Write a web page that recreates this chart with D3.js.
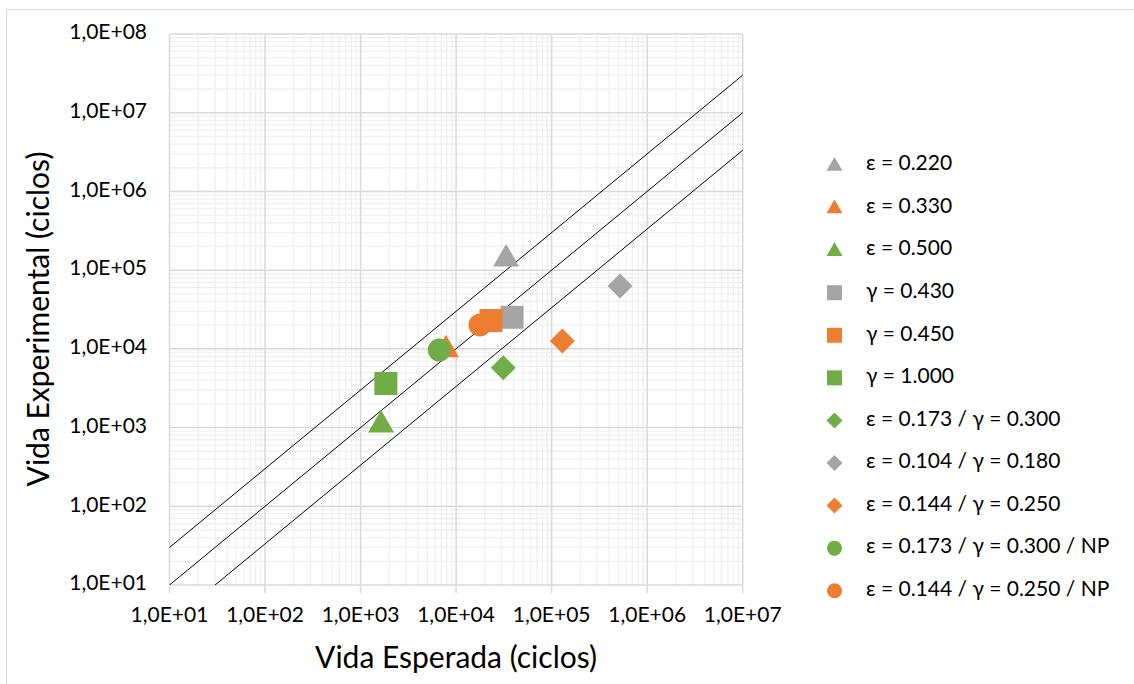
<!DOCTYPE html>
<html>
<head>
<meta charset="utf-8">
<script src="https://cdn.jsdelivr.net/npm/d3@7"></script>
<style>
  body { margin: 0; background: #fff; }
  svg { font-family: Lato, "Open Sans", sans-serif; }
</style>
</head>
<body>
<div id="chart"></div>
<script>
// Series (Vida Esperada, Vida Experimental)
const seriesNames = [
    "ε = 0.220", "ε = 0.330", "ε = 0.500",
    "γ = 0.430", "γ = 0.450", "γ = 1.000",
    "ε = 0.173 / γ = 0.300", "ε = 0.104 / γ = 0.180", "ε = 0.144 / γ = 0.250",
    "ε = 0.173 / γ = 0.300 / NP", "ε = 0.144 / γ = 0.250 / NP"
];
const seriesShapes = ["triangle", "triangle", "triangle", "square", "square", "square",
    "diamond", "diamond", "diamond", "circle", "circle"];
const seriesColors = ["#A5A5A5", "#ED7D31", "#70AD47", "#A5A5A5", "#ED7D31", "#70AD47",
    "#70AD47", "#A5A5A5", "#ED7D31", "#70AD47", "#ED7D31"];
const expected = [33400, 7830, 1640, 38500, 23200, 1840, 31200, 520000, 129500, 6670, 17800];
const experimental = [146500, 10250, 1140, 25200, 22900, 3630, 5760, 62900, 12600, 9670, 20100];

// Reference lines: N_exp = factor * N_esp
const lineFactors = [3, 1, 1 / 3];

const xTicks = [1e1, 1e2, 1e3, 1e4, 1e5, 1e6, 1e7];
const yTicks = [1e1, 1e2, 1e3, 1e4, 1e5, 1e6, 1e7, 1e8];

const width = 1134, height = 684;
const plot = { left: 169.5, right: 742.7, top: 34, bottom: 585 };

const svg = d3.select("#chart").append("svg")
    .attr("width", width)
    .attr("height", height);

// outer chart border
svg.append("rect")
    .attr("x", 6.5).attr("y", 9.5)
    .attr("width", width).attr("height", height)
    .attr("fill", "none")
    .attr("stroke", "#d9d9d9");

const x = d3.scaleLog().domain([1e1, 1e7]).range([plot.left, plot.right]);
const y = d3.scaleLog().domain([1e1, 1e8]).range([plot.bottom, plot.top]);

function fmt(v) {
    const e = Math.round(Math.log10(v));
    return "1,0E+" + (e < 10 ? "0" + e : e);
}

// minor gridlines
function minors(domain) {
    const out = [];
    for (let e = Math.log10(domain[0]); e < Math.log10(domain[1]); e++) {
        for (let m = 2; m <= 9; m++) out.push(m * Math.pow(10, e));
    }
    return out;
}

const grid = svg.append("g");
grid.selectAll(".xminor").data(minors(x.domain())).enter().append("line")
    .attr("x1", d => x(d)).attr("x2", d => x(d))
    .attr("y1", plot.top).attr("y2", plot.bottom)
    .attr("stroke", "#f0f0f0").attr("stroke-width", 1.3);
grid.selectAll(".yminor").data(minors(y.domain())).enter().append("line")
    .attr("y1", d => y(d)).attr("y2", d => y(d))
    .attr("x1", plot.left).attr("x2", plot.right)
    .attr("stroke", "#f0f0f0").attr("stroke-width", 1.3);
grid.selectAll(".xmajor").data(xTicks).enter().append("line")
    .attr("x1", d => x(d)).attr("x2", d => x(d))
    .attr("y1", plot.top).attr("y2", plot.bottom)
    .attr("stroke", "#d9d9d9").attr("stroke-width", 1.5);
grid.selectAll(".ymajor").data(yTicks).enter().append("line")
    .attr("y1", d => y(d)).attr("y2", d => y(d))
    .attr("x1", plot.left).attr("x2", plot.right)
    .attr("stroke", "#d9d9d9").attr("stroke-width", 1.5);

// x axis ticks
svg.selectAll(".xtick").data(xTicks).enter().append("line")
    .attr("x1", d => x(d)).attr("x2", d => x(d))
    .attr("y1", plot.bottom).attr("y2", plot.bottom + 8)
    .attr("stroke", "#d9d9d9").attr("stroke-width", 1.5);

// tick labels
svg.selectAll(".xlab").data(xTicks).enter().append("text")
    .attr("x", d => x(d)).attr("y", 617)
    .attr("text-anchor", "middle").attr("dominant-baseline", "middle")
    .attr("font-size", 21).attr("fill", "#000")
    .text(fmt);
svg.selectAll(".ylab").data(yTicks).enter().append("text")
    .attr("x", 147).attr("y", d => y(d))
    .attr("text-anchor", "end").attr("dominant-baseline", "middle")
    .attr("font-size", 21).attr("fill", "#000")
    .text(fmt);

// axis titles
svg.append("text")
    .attr("x", (plot.left + plot.right) / 2).attr("y", 660)
    .attr("text-anchor", "middle").attr("dominant-baseline", "middle")
    .attr("font-size", 30)
    .text("Vida Esperada (ciclos)");
svg.append("text")
    .attr("transform", "translate(41,319) rotate(-90)")
    .attr("text-anchor", "middle").attr("dominant-baseline", "middle")
    .attr("font-size", 30)
    .text("Vida Experimental (ciclos)");

// reference lines, clipped to plot area
svg.append("defs").append("clipPath").attr("id", "clip")
    .append("rect")
    .attr("x", plot.left).attr("y", plot.top)
    .attr("width", plot.right - plot.left).attr("height", plot.bottom - plot.top);

const refLine = d3.line().x(d => x(d[0])).y(d => y(d[1]));
svg.append("g").attr("clip-path", "url(#clip)")
    .selectAll("path").data(lineFactors).enter().append("path")
    .attr("d", f => refLine([[1, f * 1], [1e8, f * 1e8]]))
    .attr("fill", "none").attr("stroke", "#000").attr("stroke-width", 1);

// markers
const symbolType = {
    triangle: d3.symbolTriangle,
    square: d3.symbolSquare,
    diamond: d3.symbolSquare,
    circle: d3.symbolCircle
};
function markerPath(shape, s) {
    // s = nominal width in px
    let area;
    if (shape === "square") area = s * s;
    else if (shape === "diamond") area = (s / Math.SQRT2) * (s / Math.SQRT2);
    else if (shape === "circle") area = Math.PI * (s / 2) * (s / 2);
    else area = (Math.sqrt(3) / 4) * s * s;
    return d3.symbol().type(symbolType[shape]).size(area)();
}
function markerTransform(shape, cx, cy, s) {
    if (shape === "diamond") return `translate(${cx},${cy}) rotate(45)`;
    if (shape === "triangle") return `translate(${cx},${cy + s * 0.07})`;
    return `translate(${cx},${cy})`;
}

const points = seriesNames.map((name, i) => ({
    name: name, shape: seriesShapes[i], color: seriesColors[i],
    esp: expected[i], exp: experimental[i]
}));

// draw order matches reference stacking
const drawOrder = [7, 8, 6, 3, 4, 0, 1, 2, 5, 9, 10];
svg.append("g").selectAll("path").data(drawOrder.map(i => points[i])).enter().append("path")
    .attr("d", d => markerPath(d.shape, d.shape === "triangle" ? 26 : (d.shape === "diamond" ? 25 : 23)))
    .attr("transform", d => markerTransform(d.shape, x(d.esp), y(d.exp), 26))
    .attr("fill", d => d.color);

// legend
const legend = svg.append("g");
const rowY = d3.scaleLinear().domain([0, 10]).range([165, 590.7]);
points.forEach((d, i) => {
    const cy = rowY(i);
    const s = d.shape === "triangle" ? 16 : (d.shape === "diamond" ? 16 : 15);
    legend.append("path")
        .attr("d", markerPath(d.shape, s))
        .attr("transform", markerTransform(d.shape, 834.5, cy, s))
        .attr("fill", d.color);
    legend.append("text")
        .attr("x", 866).attr("y", cy)
        .attr("dominant-baseline", "middle")
        .attr("font-size", 21)
        .text(d.name);
});
</script>
</body>
</html>
